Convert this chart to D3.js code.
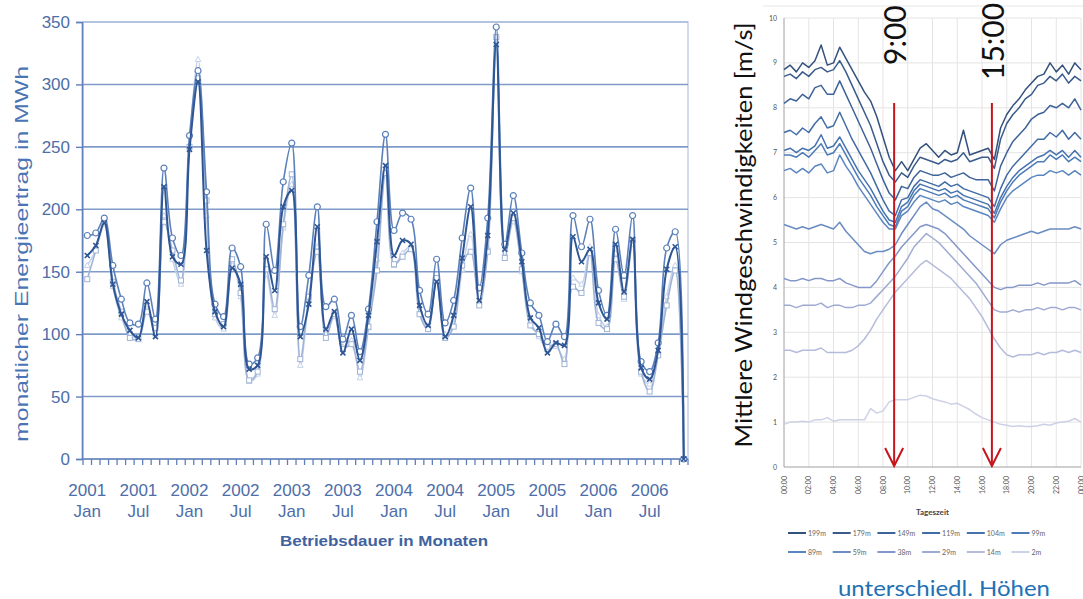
<!DOCTYPE html>
<html><head><meta charset="utf-8">
<script src="https://cdn.jsdelivr.net/npm/d3@7"></script>
<style>body{margin:0;background:#fff}svg{display:block}</style>
</head><body>
<svg id="c" width="1083" height="599"></svg>
<script>
// ---------------- LEFT CHART DATA (monthly energy yield, MWh, Jan 2001 .. Nov 2006) ----------------
const seriesCircle = [179,181,193,155,128,109,108,141,112,233,177,163,259,311,214,124,114,169,154,76,
  81,188,151,222,253,106,147,202,122,128,96,115,86,120,190,260,183,197,192,135,
  116,160,109,127,177,217,137,193,346,172,211,165,125,115,94,108,98,195,170,192,
  135,115,184,147,195,78,70,93,169,182,0];
const seriesCross = [163,171,189,140,116,103,97,126,98,218,162,156,248,302,167,118,106,153,140,72,
  75,162,135,202,215,98,124,186,104,118,85,104,79,115,174,235,163,175,172,123,
  107,142,98,115,161,202,127,179,332,168,197,158,113,105,85,93,91,178,158,168,
  125,112,172,134,176,73,64,87,152,170,0];
const seriesSquare = [144,167,191,142,118,97,96,118,105,190,167,143,250,305,207,116,108,160,133,63,
  70,152,120,188,228,80,130,166,97,116,88,92,70,106,151,229,156,162,168,116,
  104,145,97,106,155,166,123,166,338,161,193,152,107,100,90,92,76,138,133,165,
  109,104,160,130,175,70,54,83,123,151,0];
const seriesLight = [155,167,188,138,113,100,97,120,100,195,160,140,252,320,195,113,104,158,130,62,
  68,148,115,185,220,75,128,170,100,114,90,95,65,105,160,230,155,165,170,118,
  105,143,100,108,152,180,125,170,335,165,190,150,110,98,88,90,80,145,140,170,
  115,106,165,128,172,68,60,85,130,155,0];
const leftYTicks = [0,50,100,150,200,250,300,350];
const leftTickIndex = [0,6,12,18,24,30,36,42,48,54,60,66];
const leftTickYears = ["2001","2001","2002","2002","2003","2003","2004","2004","2005","2005","2006","2006"];
const leftTickMonths = ["Jan","Jul","Jan","Jul","Jan","Jul","Jan","Jul","Jan","Jul","Jan","Jul"];

// ---------------- RIGHT CHART DATA (mean wind speed by time of day, m/s) ----------------
const hours = [0,0.5,1,1.5,2,2.5,3,3.5,4,4.5,5,5.5,6,6.5,7,7.5,8,8.5,9,9.5,10,10.5,11,11.5,12,
  12.5,13,13.5,14,14.5,15,15.5,16,16.5,17,17.5,18,18.5,19,19.5,20,20.5,21,21.5,22,22.5,23,23.5,24];
const w199 = [8.85,8.95,8.8,9.0,8.9,9.05,9.4,8.95,9.0,9.35,9.1,8.85,8.6,8.35,8.15,7.8,7.35,6.9,6.6,6.8,6.6,6.85,7.1,7.2,7.05,
  6.9,7.05,6.95,7.0,7.5,6.95,7.0,7.05,7.1,6.85,7.55,7.85,8.05,8.2,8.4,8.55,8.7,8.75,9.0,8.8,8.95,8.75,9.0,8.85];
const w179 = [8.7,8.75,8.65,8.8,8.7,8.85,8.9,8.8,8.85,9.05,8.8,8.5,8.2,7.9,7.6,7.2,6.8,6.5,6.35,6.55,6.45,6.7,6.9,6.85,6.8,
  6.75,6.85,6.8,6.85,7.0,6.8,6.85,6.9,6.9,6.65,7.3,7.65,7.85,8.0,8.2,8.3,8.5,8.55,8.7,8.6,8.75,8.55,8.7,8.6];
const w149 = [8.1,8.2,8.15,8.3,8.2,8.45,8.5,8.3,8.3,8.6,8.3,8.0,7.7,7.4,7.1,6.75,6.4,6.1,5.95,6.25,6.2,6.45,6.6,6.55,6.5,
  6.5,6.55,6.45,6.5,6.55,6.45,6.4,6.4,6.4,6.15,6.7,7.0,7.25,7.4,7.55,7.75,7.85,7.9,8.05,8.0,8.1,8.0,8.2,7.95];
const w119 = [7.45,7.5,7.4,7.55,7.45,7.65,7.8,7.55,7.6,7.9,7.6,7.3,7.05,6.8,6.55,6.25,5.95,5.7,5.6,5.95,6.0,6.25,6.4,6.35,6.3,
  6.25,6.35,6.25,6.3,6.2,6.15,6.1,6.05,6.0,5.8,6.2,6.5,6.7,6.85,7.0,7.15,7.3,7.3,7.45,7.35,7.5,7.3,7.45,7.3];
const w104 = [7.05,7.1,7.0,7.1,7.05,7.15,7.4,7.1,7.15,7.35,7.1,6.85,6.6,6.4,6.2,5.95,5.7,5.5,5.45,5.8,5.9,6.15,6.3,6.25,6.2,
  6.15,6.2,6.1,6.15,6.05,6.0,5.95,5.9,5.85,5.65,6.0,6.25,6.45,6.6,6.7,6.8,6.9,6.95,7.05,6.95,7.05,6.9,7.05,6.9];
const w99 = [6.95,6.95,6.9,7.0,6.9,7.05,7.2,6.95,7.0,7.2,6.95,6.7,6.45,6.25,6.05,5.8,5.6,5.4,5.35,5.7,5.8,6.05,6.2,6.15,6.1,
  6.05,6.1,6.0,6.05,5.95,5.9,5.85,5.8,5.75,5.55,5.9,6.15,6.35,6.5,6.6,6.7,6.8,6.8,6.95,6.85,6.95,6.8,6.9,6.8];
const w89 = [6.6,6.65,6.55,6.65,6.55,6.7,6.75,6.55,6.6,6.95,6.7,6.5,6.25,6.05,5.85,5.65,5.45,5.3,5.3,5.6,5.7,5.9,6.05,6.0,5.95,
  5.9,5.95,5.85,5.9,5.8,5.75,5.7,5.65,5.6,5.45,5.75,6.0,6.15,6.25,6.35,6.45,6.5,6.5,6.6,6.55,6.6,6.5,6.6,6.5];
const w59 = [5.4,5.35,5.3,5.35,5.3,5.35,5.4,5.35,5.3,5.45,5.25,5.1,4.95,4.8,4.75,4.8,4.8,4.85,4.95,5.2,5.4,5.6,5.8,5.9,5.75,
  5.7,5.6,5.5,5.4,5.3,5.15,5.05,4.95,4.85,4.75,4.95,5.05,5.1,5.15,5.2,5.25,5.2,5.25,5.3,5.3,5.3,5.3,5.35,5.3];
const w38 = [4.2,4.15,4.15,4.2,4.15,4.2,4.2,4.15,4.15,4.2,4.1,4.05,4.0,4.0,4.0,4.15,4.35,4.55,4.7,4.9,5.05,5.2,5.35,5.4,5.35,
  5.3,5.2,5.05,4.9,4.75,4.6,4.45,4.3,4.15,4.0,3.95,4.0,4.0,4.05,4.05,4.05,4.1,4.05,4.1,4.1,4.1,4.1,4.15,4.05];
const w29 = [3.6,3.6,3.55,3.6,3.6,3.6,3.65,3.55,3.6,3.6,3.55,3.55,3.6,3.6,3.65,3.8,3.95,4.1,4.25,4.45,4.65,4.9,5.05,5.2,5.1,
  5.0,4.85,4.7,4.55,4.4,4.25,4.1,3.9,3.7,3.5,3.45,3.45,3.5,3.45,3.5,3.5,3.55,3.5,3.55,3.55,3.5,3.55,3.55,3.5];
const w14 = [2.6,2.6,2.55,2.6,2.6,2.6,2.65,2.55,2.55,2.55,2.55,2.6,2.7,2.85,3.05,3.3,3.5,3.7,3.9,4.05,4.2,4.35,4.5,4.6,4.5,
  4.4,4.3,4.2,4.05,3.9,3.75,3.55,3.35,3.1,2.85,2.65,2.5,2.45,2.5,2.5,2.5,2.55,2.5,2.55,2.55,2.6,2.55,2.6,2.55];
const w2 = [0.95,1.0,1.0,1.02,1.0,1.05,1.05,1.1,1.02,1.05,1.05,1.05,1.05,1.05,1.3,1.2,1.25,1.45,1.5,1.5,1.5,1.55,1.6,1.58,1.52,
  1.48,1.45,1.4,1.42,1.35,1.28,1.18,1.1,1.05,1.0,0.95,0.93,0.9,0.92,0.9,0.9,0.92,0.95,0.93,0.98,1.0,1.02,1.08,1.0];
const heightLabels = ["199m","179m","149m","119m","104m","99m","89m","59m","38m","29m","14m","2m"];
const rightYTicks = [0,1,2,3,4,5,6,7,8,9,10];
const rightXTicks = [0,2,4,6,8,10,12,14,16,18,20,22,24];
const rightXLabels = ["00:00","02:00","04:00","06:00","08:00","10:00","12:00","14:00","16:00","18:00","20:00","22:00","00:00"];
const markerHours = [8.9, 16.8];
const markerLabels = ["9:00","15:00"];

// ---------------- DRAW ----------------
const svg = d3.select("#c");

// ===== LEFT =====
const nM = seriesCircle.length;
const xL = d3.scaleBand().domain(d3.range(nM)).range([83, 688]);
const bw = xL.bandwidth();
const cx = i => xL(i) + bw / 2;
const yL = d3.scaleLinear().domain([0, 350]).range([459, 22]);
const gL = svg.append("g");

gL.append("rect").attr("x", 83).attr("y", yL(350)).attr("width", 605).attr("height", yL(0) - yL(350))
  .attr("fill", "none").attr("stroke", "#c3d0e6").attr("stroke-width", 1.5);
gL.append("g").selectAll("line").data(leftYTicks.filter(d => d > 0)).join("line")
  .attr("x1", 83).attr("x2", 688).attr("y1", d => yL(d)).attr("y2", d => yL(d))
  .attr("stroke", d => d === 350 ? "#a9bcdc" : "#7f9cc9").attr("stroke-width", 1.6);
const yAx = gL.append("g").attr("transform", "translate(82,0)").call(d3.axisLeft(yL).tickValues(leftYTicks).tickSize(6).tickPadding(6));
yAx.select(".domain").attr("stroke", "#5f80b8").attr("stroke-width", 1.6);
yAx.selectAll(".tick line").attr("stroke", "#5f80b8").attr("stroke-width", 1.4);
yAx.selectAll("text").attr("fill", "#4d6ea8").style("font-family", "'Liberation Sans', Arial, sans-serif").style("font-size", "17px");
gL.append("line").attr("x1", 82).attr("x2", 688).attr("y1", yL(0)).attr("y2", yL(0)).attr("stroke", "#5f80b8").attr("stroke-width", 1.6);
gL.append("g").selectAll("line").data(d3.range(nM + 1)).join("line")
  .attr("x1", i => (i < nM ? xL(i) : 688)).attr("x2", i => (i < nM ? xL(i) : 688))
  .attr("y1", yL(0)).attr("y2", yL(0) + 6).attr("stroke", "#5f80b8").attr("stroke-width", 1.3);
const xt = gL.append("g").selectAll("text").data(leftTickIndex).join("text")
  .attr("x", i => cx(i)).attr("text-anchor", "middle").attr("fill", "#4d6ea8")
  .style("font-family", "'Liberation Sans', Arial, sans-serif").style("font-size", "17px");
xt.append("tspan").attr("x", i => cx(i)).attr("y", 496).text((d, k) => leftTickYears[k]);
xt.append("tspan").attr("x", i => cx(i)).attr("y", 517).text((d, k) => leftTickMonths[k]);
gL.append("text").attr("transform", "translate(28,254) rotate(-90)").attr("text-anchor", "middle")
  .attr("fill", "#4a74b3").style("font-family", "'Liberation Sans', Arial, sans-serif").style("font-size", "19px")
  .attr("textLength", 376).attr("lengthAdjust", "spacingAndGlyphs").text("monatlicher Energieertrag in MWh");
gL.append("text").attr("x", 384).attr("y", 546).attr("text-anchor", "middle")
  .attr("fill", "#3e63a0").style("font-family", "'Liberation Sans', Arial, sans-serif").style("font-size", "15px").style("font-weight", "bold")
  .attr("textLength", 208).attr("lengthAdjust", "spacingAndGlyphs").text("Betriebsdauer in Monaten");

const lineL = d3.line().x((d, i) => cx(i)).y(d => yL(d)).curve(d3.curveCatmullRom.alpha(0.5));
const leftSeries = [
  {data: seriesLight, color: "#c6d2e8", w: 1.6, m: "tri"},
  {data: seriesSquare, color: "#9fb3d7", w: 1.6, m: "sq"},
  {data: seriesCircle, color: "#5b80ba", w: 1.6, m: "circ"},
  {data: seriesCross, color: "#2f5694", w: 2, m: "x"}
];
leftSeries.forEach(s => {
  gL.append("path").datum(s.data).attr("d", lineL).attr("fill", "none").attr("stroke", s.color).attr("stroke-width", s.w);
  const g = gL.append("g");
  const pts = g.selectAll("g").data(s.data).join("g").attr("transform", (d, i) => `translate(${cx(i)},${yL(d)})`);
  if (s.m === "circ") pts.append("circle").attr("r", 3).attr("fill", "#fff").attr("stroke", s.color).attr("stroke-width", 1.2);
  if (s.m === "sq") pts.append("rect").attr("x", -2.5).attr("y", -2.5).attr("width", 5).attr("height", 5).attr("fill", "#fff").attr("stroke", s.color).attr("stroke-width", 1);
  if (s.m === "tri") pts.append("path").attr("d", "M0,-3L2.8,2L-2.8,2Z").attr("fill", "#fff").attr("stroke", s.color).attr("stroke-width", 1);
  if (s.m === "x") pts.append("path").attr("d", "M-2.5,-2.5L2.5,2.5M-2.5,2.5L2.5,-2.5").attr("stroke", s.color).attr("stroke-width", 1.6);
});

// ===== RIGHT =====
const xR = d3.scaleLinear().domain([0, 24]).range([784, 1081]);
const yR = d3.scaleLinear().domain([0, 10]).range([467, 18]);
const gR = svg.append("g");
const smallFont = "Lato, 'Open Sans', sans-serif";
gR.append("line").attr("x1", 763).attr("x2", 1083).attr("y1", 6).attr("y2", 6).attr("stroke", "#e6e6e6");
gR.append("g").selectAll("line").data(rightYTicks.filter(d => d > 0)).join("line")
  .attr("x1", 784).attr("x2", 1081).attr("y1", d => yR(d)).attr("y2", d => yR(d)).attr("stroke", "#e4e4e4").attr("stroke-width", 1);
gR.append("g").selectAll("line").data(rightXTicks.filter(d => d > 0)).join("line")
  .attr("x1", d => xR(d)).attr("x2", d => xR(d)).attr("y1", yR(10)).attr("y2", yR(0)).attr("stroke", "#e4e4e4").attr("stroke-width", 1);
gR.append("line").attr("x1", 784).attr("x2", 784).attr("y1", yR(10)).attr("y2", yR(0)).attr("stroke", "#a0a0a0");
gR.append("line").attr("x1", 784).attr("x2", 1081).attr("y1", yR(0)).attr("y2", yR(0)).attr("stroke", "#a0a0a0");
gR.append("g").selectAll("text").data(rightYTicks).join("text")
  .attr("x", 777).attr("y", d => yR(d) + 2.5).attr("text-anchor", "end").attr("fill", "#555")
  .style("font-family", smallFont).style("font-size", "7px").text(d => d);
gR.append("g").selectAll("text").data(rightXTicks).join("text")
  .attr("transform", d => `translate(${xR(d) + 2.5},476) rotate(-90)`).attr("text-anchor", "end").attr("fill", "#555")
  .style("font-family", smallFont).style("font-size", "7px").text((d, i) => rightXLabels[i]);
gR.append("text").attr("x", (784 + 1081) / 2).attr("y", 515).attr("text-anchor", "middle").attr("fill", "#444")
  .style("font-family", smallFont).style("font-size", "8px").style("font-weight", "bold").text("Tageszeit");

const rightSeries = [w199, w179, w149, w119, w104, w99, w89, w59, w38, w29, w14, w2];
const rightColors = ["#34507d", "#3a5b8c", "#3e6398", "#426ca6", "#4673b0", "#4c7bb8", "#5a86c0", "#6b8cc2", "#8497c8", "#9eaad1", "#b4bcda", "#cdd1e5"];
const lineR = d3.line().x((d, i) => xR(hours[i])).y(d => yR(d));
for (let k = rightSeries.length - 1; k >= 0; k--) {
  gR.append("path").datum(rightSeries[k]).attr("d", lineR).attr("fill", "none")
    .attr("stroke", rightColors[k]).attr("stroke-width", 1.5).attr("stroke-linejoin", "round");
}
const leg = gR.append("g").selectAll("g").data(heightLabels).join("g")
  .attr("transform", (d, i) => `translate(${788 + (i % 6) * 44.7},${i < 6 ? 533 : 552})`);
leg.append("line").attr("x1", 0).attr("x2", 18).attr("stroke", (d, i) => rightColors[i]).attr("stroke-width", 2);
leg.append("text").attr("x", 20).attr("y", 2.5).attr("fill", "#666").style("font-family", smallFont).style("font-size", "7px").text(d => d);

markerHours.forEach((h, k) => {
  const x = xR(h);
  gR.append("line").attr("x1", x).attr("x2", x).attr("y1", 103).attr("y2", yR(0) - 1).attr("stroke", "#c4161c").attr("stroke-width", 2);
  gR.append("path").attr("d", `M${x - 9},${yR(0) - 19}L${x},${yR(0) - 1}L${x + 9},${yR(0) - 19}`)
    .attr("fill", "none").attr("stroke", "#c4161c").attr("stroke-width", 2);
  gR.append("text").attr("transform", `translate(${x + 12},${k === 0 ? 65 : 80}) rotate(-90)`).attr("fill", "#111")
    .style("font-family", "Lato, 'Open Sans', sans-serif").style("font-size", "30px").text(markerLabels[k]);
});
gR.append("text").attr("transform", "translate(752,235) rotate(-90)").attr("text-anchor", "middle").attr("fill", "#111")
  .style("font-family", "Lato, 'Open Sans', sans-serif").style("font-size", "24px")
  .attr("textLength", 425).attr("lengthAdjust", "spacingAndGlyphs").text("Mittlere Windgeschwindigkeiten [m/s]");
gR.append("text").attr("x", 944).attr("y", 596).attr("text-anchor", "middle").attr("fill", "#2271b5")
  .style("font-family", "Lato, 'Open Sans', sans-serif").style("font-size", "21px")
  .attr("textLength", 212).attr("lengthAdjust", "spacingAndGlyphs").text("unterschiedl. Höhen");
</script>
</body></html>
